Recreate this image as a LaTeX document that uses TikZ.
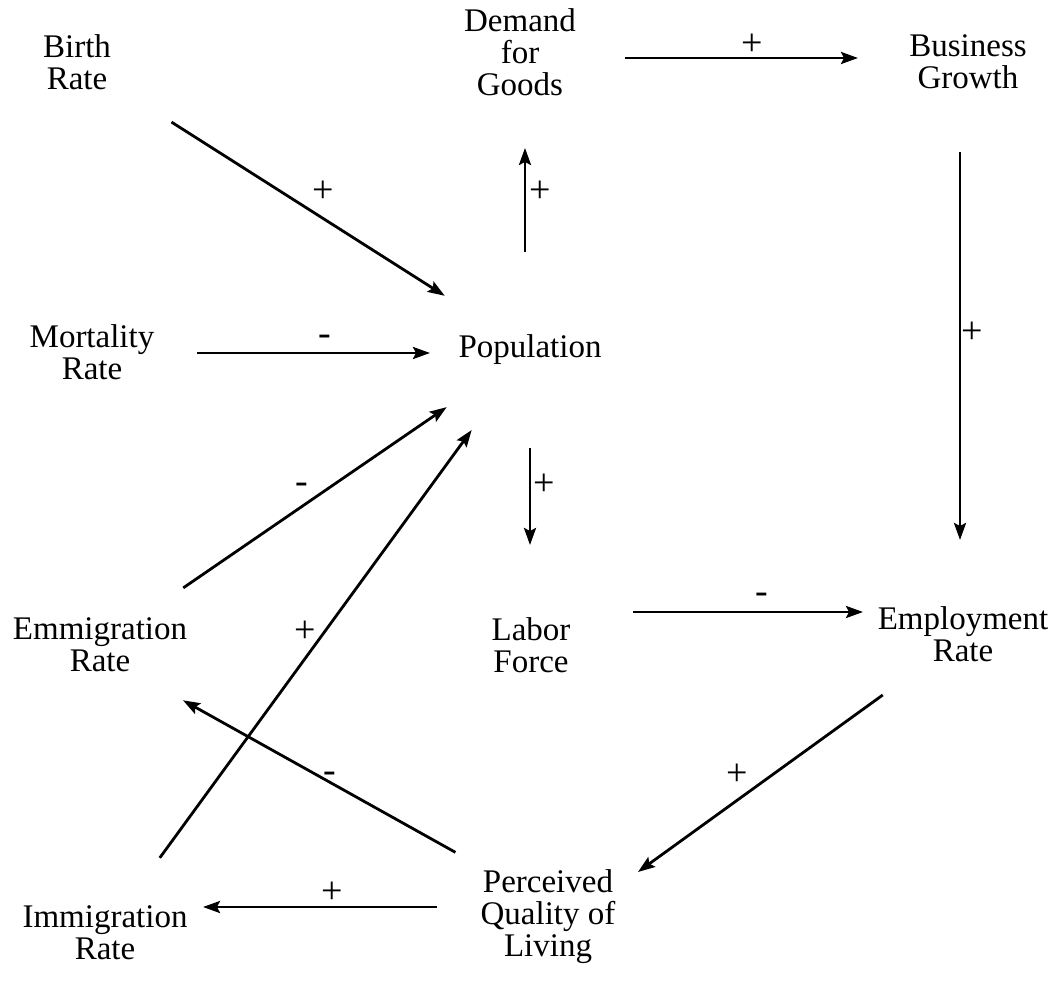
\documentclass[tikz,border=0pt]{standalone}
\usepackage{fontspec}
\setmainfont{Liberation Serif}
\usetikzlibrary{arrows.meta,calc}
\begin{document}
\begin{tikzpicture}[x=1pt,y=-1pt,
  var/.style={align=center,font=\fontsize{33}{32}\selectfont,inner sep=0pt},
  lbl/.style={font=\fontsize{38}{38}\selectfont,inner sep=0pt},
  arr/.style={line width=2.8pt,-{Stealth[length=17pt,width=12pt,inset=3pt]}}]
\useasboundingbox[fill=white] (0,0) rectangle (1058,981);

% variables
\node[var] (birth) at (77,62)  {Birth\\Rate};
\node[var] (dem)   at (520,52) {Demand\\for\\Goods};
\node[var] (bus)   at (968,62) {Business\\Growth};
\node[var] (mort)  at (92,352) {Mortality\\Rate};
\node[var] (pop)   at (530,350) {Population};
\node[var] (emig)  at (100,645) {Emmigration\\Rate};
\node[var] (labor) at (531,645) {Labor\\Force};
\node[var] (emp)   at (963,634) {Employment\\Rate};
\node[var] (immig) at (105,933) {Immigration\\Rate};
\node[var] (pq)    at (548,917) {Perceived\\Quality of\\Living};

% causal links
\draw[arr,shorten <=112pt,shorten >=101pt] (birth.center) -- (pop.center);
\draw[arr,shorten <=105pt,shorten >=100pt] ($(mort)+(0,1)$) -- ($(pop)+(0,3)$);
\draw[arr,shorten <=98pt,shorten >=96pt] ($(pop)+(-5,0)$) -- ($(dem)+(5,0)$);
\draw[arr,shorten <=105pt,shorten >=110pt] ($(dem)+(0,6)$) -- ($(bus)+(0,-4)$);
\draw[arr,shorten <=90pt,shorten >=94pt] ($(bus)+(-8,0)$) -- ($(emp)+(-3,0)$);
\draw[arr,shorten <=98pt,shorten >=100pt] (pop.center) -- ($(labor)+(-1,0)$);
\draw[arr,shorten <=102pt,shorten >=100pt] ($(labor)+(0,-33)$) -- ($(emp)+(0,-22)$);
\draw[arr,shorten <=101pt,shorten >=101pt] (emig.center) -- (pop.center);
\draw[arr,shorten <=93pt,shorten >=99pt] (immig.center) -- (pop.center);
\draw[arr,shorten <=99pt,shorten >=111pt] ($(emp)+(0,3)$) -- ($(pq)+(0,20)$);
\draw[arr,shorten <=106pt,shorten >=95pt] ($(pq)+(0,-13)$) -- ($(emig)+(0,9)$);
\draw[arr,shorten <=111pt,shorten >=98pt] ($(pq)+(0,-10)$) -- ($(immig)+(0,-26)$);

% link polarities
\node[lbl] (l1)  at (323,192) {+};
\node[lbl] (l2)  at (325,340) {-};
\node[lbl] (l3)  at (540,192) {+};
\node[lbl] (l4)  at (752,45)  {+};
\node[lbl] (l5)  at (972,333) {+};
\node[lbl] (l6)  at (544,485) {+};
\node[lbl] (l7)  at (762,598) {-};
\node[lbl] (l8)  at (302,488) {-};
\node[lbl] (l9)  at (305,632) {+};
\node[lbl] (l10) at (737,775) {+};
\node[lbl] (l11) at (330,777) {-};
\node[lbl] (l12) at (332,893) {+};
\end{tikzpicture}
\end{document}
